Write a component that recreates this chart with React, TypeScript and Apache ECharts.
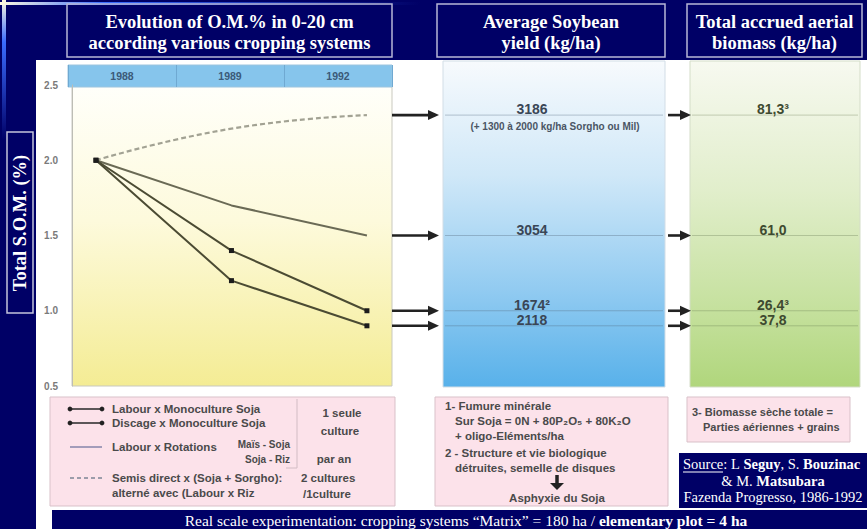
import React, { useEffect, useRef } from 'react';
import * as echarts from 'echarts';

// ---------- data ----------
const years = ['1988', '1989', '1992'];
const seriesNames = [
  'Labour x Monoculture Soja',
  'Discage x Monoculture Soja',
  'Labour x Rotations',
  'Semis direct x (Soja + Sorgho):',
];
const labourMono = [2.0, 1.2, 0.9];
const discageMono = [2.0, 1.4, 1.0];
const labourRotation = [2.0, 1.7, 1.5];
const semisDirect = [2.0, 2.21, 2.3];
// panel values, in order: semis direct, rotations, discage mono, labour mono
const soybeanYield = [3186, 3054, 1674, 2118];
const yieldSup = ['', '', '²', ''];
const aerialBiomass = [81.3, 61.0, 26.4, 37.8];
const biomassSup = ['³', '', '³', ''];
const yieldNote = '(+ 1300 à 2000 kg/ha Sorgho ou Mil)';

// ---------- styles ----------
const NAVY = '#000066';
const SANS = '"Liberation Sans", Arial, Helvetica, sans-serif';
const SERIF = '"Liberation Serif", "Times New Roman", Times, serif';

const vgrad = (stops: [number, string][]) => ({
  type: 'linear', x: 0, y: 0, x2: 0, y2: 1,
  colorStops: stops.map(([offset, color]) => ({ offset, color })),
});

const txt = (text: string, x: number, y: number, o: any = {}) => ({
  type: 'text', x, y, z: o.z ?? 60, rotation: o.rotation ?? 0,
  style: {
    text,
    fill: o.fill ?? '#4a4a4a',
    fontSize: o.size ?? 11.5,
    fontWeight: o.weight ?? 'bold',
    fontFamily: o.family ?? SANS,
    align: o.align ?? 'left',
    verticalAlign: 'middle',
    rich: o.rich,
  },
});

const rect = (x: number, y: number, w: number, h: number, fill: any, stroke?: string, z = -50, lw = 1) => ({
  type: 'rect', z, shape: { x, y, width: w, height: h },
  style: { fill, stroke: stroke ?? 'none', lineWidth: lw },
});

const line = (x1: number, y1: number, x2: number, y2: number, stroke: string, lw: number, z = 40, dash?: number[]) => ({
  type: 'line', z, shape: { x1, y1, x2, y2 },
  style: { stroke, lineWidth: lw, lineDash: dash },
});

function buildOption() {
  const pts = (a: number[]) => a.map((v, i) => [i, v]);
  return {
    animation: false,
    backgroundColor: NAVY,
    grid: [
      {
        left: 72, right: 475, top: 85, bottom: 143, show: true,
        backgroundColor: vgrad([[0, '#fffffa'], [0.45, '#fdfadc'], [1, '#f4ec94']]),
        borderColor: '#c9c9c0', borderWidth: 1,
      },
      {
        left: 68, right: 475, top: 65, height: 22, show: true,
        backgroundColor: '#86c5ec', borderColor: '#9cc4de', borderWidth: 1,
      },
    ],
    xAxis: [
      { type: 'value', gridIndex: 0, min: -0.177, max: 2.185, show: false },
      {
        type: 'category', gridIndex: 1, data: years, boundaryGap: true, z: 10,
        axisLine: { show: false }, axisTick: { show: false },
        splitLine: { show: true, lineStyle: { color: '#6fa9d2', width: 1 } },
        axisLabel: { inside: true, margin: 6, color: '#3b5a78', fontWeight: 'bold', fontSize: 10.5, fontFamily: SANS },
      },
    ],
    yAxis: [
      {
        type: 'value', gridIndex: 0, min: 0.5, max: 2.5, interval: 0.5, z: 10,
        axisLine: { show: true, onZero: false, lineStyle: { color: '#bdbdb5' } },
        axisTick: { show: false }, splitLine: { show: false },
        axisLabel: {
          margin: 14, color: '#7a7a7a', fontWeight: 'bold', fontSize: 10, fontFamily: SANS,
          formatter: (v: number) => v.toFixed(1),
        },
      },
      { type: 'value', gridIndex: 1, show: false },
    ],
    series: [
      {
        name: seriesNames[0], type: 'line', data: pts(labourMono),
        lineStyle: { color: '#4b4b33', width: 2 }, symbol: 'rect', symbolSize: 5,
        itemStyle: { color: '#1c1c1c' }, z: 5,
      },
      {
        name: seriesNames[1], type: 'line', data: pts(discageMono),
        lineStyle: { color: '#4b4b33', width: 2 }, symbol: 'rect', symbolSize: 5,
        itemStyle: { color: '#1c1c1c' }, z: 5,
      },
      {
        name: seriesNames[2], type: 'line', data: pts(labourRotation),
        lineStyle: { color: '#6a6a55', width: 2 }, symbol: 'none', z: 4,
      },
      {
        name: seriesNames[3], type: 'line', data: pts(semisDirect), smooth: true,
        lineStyle: { color: '#a2a293', width: 2.2, type: [5, 3] }, symbol: 'none', z: 3,
      },
    ],
  };
}

function buildGraphic(ys: number[]) {
  const g: any[] = [];
  // page backgrounds
  g.push(rect(36, 60, 831, 469, '#ffffff', undefined, -100));
  g.push(rect(52, 510, 815, 19, NAVY, undefined, -90));
  g.push(rect(2, 0, 4, 140, vgrad([[0, '#fffbe0'], [0.3, '#3a6cff'], [1, NAVY]]), undefined, -80));
  g.push({
    type: 'rect', z: -80, shape: { x: 0, y: 2, width: 420, height: 3 },
    style: { fill: { type: 'linear', x: 0, y: 0, x2: 1, y2: 0, colorStops: [{ offset: 0, color: '#fffbe0' }, { offset: 0.25, color: '#3a6cff' }, { offset: 1, color: NAVY }] } },
  });

  // title boxes
  const titleStyle = { fill: '#ffffff', size: 18.5, family: SERIF, align: 'center' };
  g.push(rect(67, 4, 325, 53, 'none', '#b6b6d6', 10, 1.5));
  g.push(txt('Evolution of O.M.% in 0-20 cm', 229.5, 22, titleStyle));
  g.push(txt('according various cropping systems', 229.5, 43, titleStyle));
  g.push(rect(437, 4, 228, 53, 'none', '#b6b6d6', 10, 1.5));
  g.push(txt('Average Soybean', 551, 22, titleStyle));
  g.push(txt('yield (kg/ha)', 551, 43, titleStyle));
  g.push(rect(687, 4, 175, 53, 'none', '#b6b6d6', 10, 1.5));
  g.push(txt('Total accrued aerial', 774.5, 22, titleStyle));
  g.push(txt('biomass (kg/ha)', 774.5, 43, titleStyle));

  // y-axis title
  g.push(rect(7, 132, 26, 181, 'none', '#c4c4dc', 10, 1.5));
  g.push(txt('Total S.O.M. (%)', 20, 223, { ...titleStyle, rotation: Math.PI / 2 }));

  // panels
  g.push(rect(443, 61, 222, 326, vgrad([[0, '#f7fafd'], [0.35, '#d0e8f8'], [0.7, '#92cbf1'], [1, '#58b1ea']]), '#d2dde6', -50));
  g.push(rect(690, 61, 170, 326, vgrad([[0, '#f7f9f0'], [0.4, '#e1eecb'], [0.75, '#c6e19f'], [1, '#b0d67c']]), '#d4ddc8', -50));

  ys.forEach((y, i) => {
    // arrow to yield panel
    g.push(line(392, y, 430, y, '#222', 2.6));
    g.push({ type: 'polygon', z: 41, shape: { points: [[428, y - 5], [439, y], [428, y + 5]] }, style: { fill: '#222' } });
    g.push(line(445, y, 663, y, 'rgba(80,100,120,0.35)', 1, 20));
    // arrow to biomass panel
    g.push(line(668, y, 682, y, '#222', 2.6));
    g.push({ type: 'polygon', z: 41, shape: { points: [[680, y - 5], [691, y], [680, y + 5]] }, style: { fill: '#222' } });
    g.push(line(692, y, 858, y, 'rgba(90,110,70,0.3)', 1, 20));
    // values
    g.push(txt(`${soybeanYield[i]}${yieldSup[i]}`, 532, y - 6, { size: 14, fill: '#3a4656', align: 'center' }));
    g.push(txt(`${aerialBiomass[i].toFixed(1).replace('.', ',')}${biomassSup[i]}`, 773, y - 6, { size: 14, fill: '#3e4a30', align: 'center' }));
  });
  g.push(txt(yieldNote, 555, ys[0] + 11, { size: 10, fill: '#4a5564', align: 'center' }));

  // legend 1
  g.push(rect(50, 397, 345, 109, '#fce2ea', '#d9c1c9', -40));
  const r = [409, 423, 447, 478, 493];
  [0, 1].forEach((k) => {
    g.push(line(70, r[k], 102, r[k], '#333', 1.6));
    g.push({ type: 'circle', z: 41, shape: { cx: 70, cy: r[k], r: 2.4 }, style: { fill: '#222' } });
    g.push({ type: 'circle', z: 41, shape: { cx: 102, cy: r[k], r: 2.4 }, style: { fill: '#222' } });
    g.push(txt(seriesNames[k], 112, r[k]));
  });
  g.push(line(70, r[2], 102, r[2], '#a39cba', 2));
  g.push(txt(seriesNames[2], 112, r[2]));
  g.push(txt('Maïs - Soja', 290, 444, { size: 10, align: 'right' }));
  g.push(txt('Soja - Riz', 290, 459, { size: 10, align: 'right' }));
  g.push({ type: 'polyline', z: 30, shape: { points: [[286, 468], [297, 468], [297, 399]] }, style: { stroke: '#d2bcc4', lineWidth: 1, fill: 'none' } });
  g.push(line(70, r[3], 102, r[3], '#9c9caa', 2, 40, [4, 3]));
  g.push(txt(seriesNames[3], 112, r[3]));
  g.push(txt('alterné avec (Labour x Riz', 112, r[4]));
  g.push(txt('1 seule', 342, 413, { align: 'center' }));
  g.push(txt('culture', 340, 431, { align: 'center' }));
  g.push(txt('par an', 334, 459, { align: 'center' }));
  g.push(txt('2 cultures', 301, 478));
  g.push(txt('/1culture', 303, 494));

  // legend 2
  g.push(rect(435, 397, 233, 109, '#fce2ea', '#d9c1c9', -40));
  g.push(txt('1- Fumure minérale', 445, 406));
  g.push(txt('Sur Soja = 0N + 80P₂O₅ + 80K₂O', 455, 421));
  g.push(txt('+ oligo-Eléments/ha', 455, 436));
  g.push(txt('2 - Structure et vie biologique', 445, 453));
  g.push(txt('détruites, semelle de disques', 455, 468));
  g.push(line(557, 475, 557, 484, '#222', 3.5));
  g.push({ type: 'polygon', z: 41, shape: { points: [[550, 483], [564, 483], [557, 490]] }, style: { fill: '#222' } });
  g.push(txt('Asphyxie du Soja', 557, 498, { align: 'center' }));

  // legend 3
  g.push(rect(687, 397, 163, 45, '#fce2ea', '#d9c1c9', -40));
  g.push(txt('3- Biomasse sèche totale =', 692, 412, { size: 11 }));
  g.push(txt('Parties aériennes + grains', 703, 427, { size: 11 }));

  // source box
  g.push(rect(679, 453, 188, 55, NAVY, undefined, -40));
  const srcRich = {
    n: { fill: '#fff', fontSize: 14.5, fontFamily: SERIF },
    b: { fill: '#fff', fontSize: 14.5, fontFamily: SERIF, fontWeight: 'bold' },
  };
  const footRich = {
    n: { fill: '#fff', fontSize: 15.5, fontFamily: SERIF },
    b: { fill: '#fff', fontSize: 15.5, fontFamily: SERIF, fontWeight: 'bold' },
  };
  g.push(txt('{n|Source: L }{b|Seguy}{n|, S. }{b|Bouzinac}', 683, 464, { rich: srcRich, family: SERIF, size: 14.5, fill: '#fff', weight: 'normal' }));
  g.push(line(683, 472, 723, 472, '#fff', 1, 61));
  g.push(txt('{n|& M. }{b|Matsubara}', 773, 481, { rich: srcRich, family: SERIF, size: 14.5, fill: '#fff', weight: 'normal', align: 'center' }));
  g.push(txt('Fazenda Progresso, 1986-1992', 773, 497, { family: SERIF, size: 14.5, fill: '#fff', weight: 'normal', align: 'center' }));

  // footer
  g.push(txt('{n|Real scale experimentation: cropping systems “Matrix” = 180 ha / }{b|elementary plot = 4 ha}', 466, 520, {
    rich: footRich, family: SERIF, size: 15.5, fill: '#fff', weight: 'normal', align: 'center',
  }));
  return g;
}

export default function App() {
  const ref = useRef<HTMLDivElement>(null);
  useEffect(() => {
    const el = ref.current;
    if (!el) return;
    const chart = echarts.init(el, null, { renderer: 'svg' });
    chart.setOption(buildOption() as any);
    const finals = [semisDirect[2], labourRotation[2], discageMono[2], labourMono[2]];
    const ys = finals.map((v) => chart.convertToPixel({ yAxisIndex: 0 }, v) as number);
    chart.setOption({ graphic: buildGraphic(ys) } as any);
    return () => chart.dispose();
  }, []);
  return <div ref={ref} style={{ position: 'fixed', left: 0, top: 0, width: 867, height: 529 }} />;
}
